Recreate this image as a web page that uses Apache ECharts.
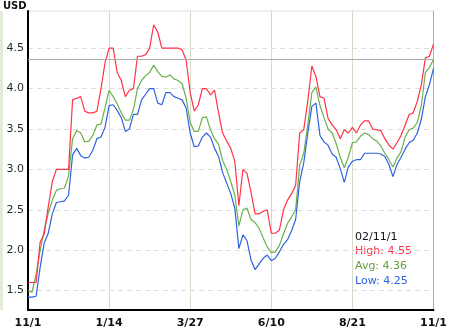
<!DOCTYPE html>
<html>
<head>
<meta charset="utf-8">
<script src="https://cdn.jsdelivr.net/npm/echarts@6/dist/echarts.min.js"></script>
<style>html,body{margin:0;padding:0;background:#fff}#c{width:450px;height:330px}</style>
</head>
<body>
<div id="c"></div>
<script>
// Tick labels along the x axis (every 20th sample)
const tickLabels = ['11/1', '1/14', '3/27', '6/10', '8/21', '11/1'];
const yTicks = [1.5, 2.0, 2.5, 3.0, 3.5, 4.0, 4.5];
const lastDate = '02/11/1';

const high = [1.60,1.60,1.60,2.10,2.20,2.54,2.85,3.00,3.00,3.00,
  3.00,3.86,3.88,3.90,3.72,3.70,3.70,3.72,4.00,4.32,
  4.50,4.50,4.20,4.10,3.90,3.98,4.00,4.40,4.40,4.42,
  4.50,4.79,4.70,4.50,4.50,4.50,4.50,4.50,4.48,4.35,
  3.95,3.72,3.80,4.00,4.00,3.92,3.98,3.70,3.45,3.35,
  3.26,3.10,2.55,3.00,2.95,2.72,2.45,2.45,2.48,2.50,
  2.21,2.21,2.25,2.50,2.62,2.70,2.80,3.45,3.49,3.85,
  4.28,4.15,3.90,3.88,3.63,3.55,3.49,3.38,3.49,3.45,
  3.52,3.45,3.55,3.60,3.60,3.50,3.49,3.48,3.38,3.30,
  3.25,3.33,3.42,3.55,3.68,3.70,3.84,4.05,4.38,4.40,
  4.55];
const avg = [1.50,1.48,1.70,2.00,2.25,2.46,2.62,2.74,2.76,2.77,
  2.92,3.38,3.48,3.45,3.34,3.35,3.42,3.55,3.56,3.76,
  3.98,3.90,3.81,3.70,3.61,3.61,3.74,4.00,4.10,4.16,
  4.20,4.29,4.21,4.15,4.14,4.17,4.12,4.10,4.06,3.88,
  3.58,3.47,3.47,3.64,3.65,3.49,3.38,3.31,3.11,3.00,
  2.85,2.68,2.30,2.50,2.52,2.38,2.34,2.27,2.15,2.04,
  1.97,1.98,2.06,2.20,2.33,2.41,2.50,3.05,3.20,3.55,
  3.95,4.02,3.79,3.64,3.50,3.45,3.32,3.15,3.02,3.15,
  3.33,3.34,3.41,3.45,3.43,3.38,3.35,3.29,3.20,3.12,
  3.03,3.14,3.22,3.40,3.49,3.51,3.58,3.79,4.20,4.26,
  4.36];
const low = [1.42,1.42,1.43,1.79,2.09,2.21,2.45,2.59,2.60,2.61,
  2.68,3.18,3.26,3.17,3.14,3.15,3.24,3.38,3.40,3.52,
  3.79,3.80,3.73,3.64,3.47,3.50,3.68,3.68,3.86,3.93,
  4.00,4.00,3.82,3.80,3.95,3.95,3.90,3.88,3.86,3.76,
  3.45,3.28,3.29,3.40,3.45,3.40,3.26,3.16,2.96,2.83,
  2.70,2.52,2.02,2.19,2.12,1.88,1.76,1.83,1.90,1.94,
  1.87,1.90,1.98,2.07,2.13,2.24,2.38,2.85,3.08,3.45,
  3.78,3.82,3.42,3.34,3.30,3.19,3.15,3.01,2.84,3.03,
  3.10,3.12,3.12,3.20,3.20,3.20,3.20,3.19,3.16,3.06,
  2.91,3.06,3.15,3.25,3.33,3.36,3.45,3.62,3.90,4.05,
  4.25];

const C_HIGH = '#ff3347', C_AVG = '#6ab04c', C_LOW = '#2f62e0';
const step = (high.length - 1) / (tickLabels.length - 1);
const cats = high.map((_, i) => String(i));
const yMin = 1.26, yMax = 4.96;
const last = high.length - 1;

const chart = echarts.init(document.getElementById('c'), null, {renderer: 'canvas'});
chart.setOption({
  animation: false,
  backgroundColor: '#fff',
  grid: {left: 28, right: 15, top: 11, bottom: 20, show: true, borderColor: '#dddddd', borderWidth: 1},
  xAxis: {
    type: 'category', data: cats, boundaryGap: false,
    axisLine: {lineStyle: {color: '#000', width: 2}},
    axisTick: {show: false},
    axisLabel: {
      interval: step - 1, margin: 8,
      color: '#111', fontSize: 11, fontWeight: 'bold', fontFamily: 'DejaVu Sans',
      formatter: (v, idx) => tickLabels[Math.round(idx / step)]
    },
    splitLine: {show: true, interval: step - 1, lineStyle: {color: '#d5ddca', width: 1}}
  },
  yAxis: [{
    type: 'value', min: yMin, max: yMax,
    axisLine: {show: true, lineStyle: {color: '#000', width: 2}},
    axisTick: {show: false, customValues: yTicks},
    axisLabel: {customValues: yTicks, margin: 4, color: '#1c2a1c', fontSize: 11, fontFamily: 'DejaVu Sans',
      formatter: v => v.toFixed(1)},
    splitLine: {show: true, lineStyle: {color: '#dddddd', type: [5, 4], width: 1}}
  }, {
    type: 'value', min: yMin, max: yMax, position: 'right',
    axisLine: {show: true, lineStyle: {color: '#aaaaaa', width: 1}},
    axisTick: {show: false}, axisLabel: {show: false}, splitLine: {show: false}
  }],
  series: [
    {name: 'Avg', type: 'line', data: avg, showSymbol: false, symbol: 'none',
     lineStyle: {color: C_AVG, width: 1.2}, itemStyle: {color: C_AVG},
     markLine: {silent: true, symbol: 'none', label: {show: false},
       lineStyle: {color: '#aaaaaa', type: 'solid', width: 1},
       data: [{yAxis: avg[last]}]}},
    {name: 'Low', type: 'line', data: low, showSymbol: false, symbol: 'none',
     lineStyle: {color: C_LOW, width: 1.2}, itemStyle: {color: C_LOW}},
    {name: 'High', type: 'line', data: high, showSymbol: false, symbol: 'none',
     lineStyle: {color: C_HIGH, width: 1.2}, itemStyle: {color: C_HIGH}}
  ],
  graphic: [
    {type: 'rect', left: 0, top: 11, shape: {width: 3, height: 299}, style: {fill: '#e2ecdb'}, silent: true},
    {type: 'text', left: 3, top: 1, style: {text: 'USD', fill: '#111', font: 'bold 10px "DejaVu Sans"'}},
    {type: 'text', left: 355, top: 232, style: {text: lastDate, fill: '#111', font: '11px "DejaVu Sans"'}},
    {type: 'text', left: 355, top: 246, style: {text: 'High: ' + high[last].toFixed(2), fill: C_HIGH, font: '11px "DejaVu Sans"'}},
    {type: 'text', left: 355, top: 261, style: {text: 'Avg: ' + avg[last].toFixed(2), fill: '#66a040', font: '11px "DejaVu Sans"'}},
    {type: 'text', left: 355, top: 276, style: {text: 'Low: ' + low[last].toFixed(2), fill: C_LOW, font: '11px "DejaVu Sans"'}}
  ]
});
</script>
</body>
</html>
